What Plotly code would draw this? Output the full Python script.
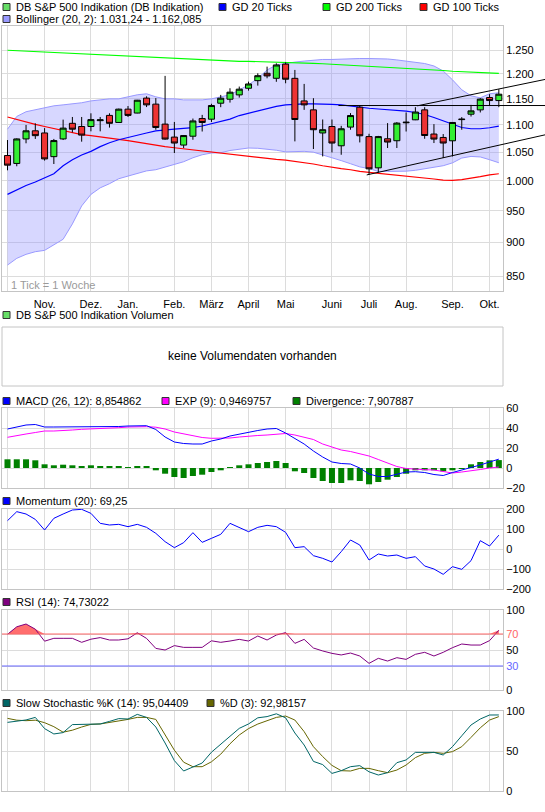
import math
import pandas as pd
import plotly.graph_objects as go

# ---------------- data ----------------
weeks = pd.date_range("2010-10-04", periods=54, freq="7D").strftime("%Y-%m-%d").tolist()

opens = [1044, 1030, 1074, 1089, 1085, 1042, 1074, 1103, 1097, 1097,
         1108, 1118, 1104.6, 1130, 1122.5, 1151.5, 1139.7, 1101.5, 1077.4, 1062.8,
         1079, 1112, 1110.8, 1141.5, 1149.3, 1157.8, 1171, 1186.3, 1201.3, 1191.1,
         1220.3, 1191, 1146, 1128.6, 1085, 1097, 1061.5, 1095.9, 1133.8, 1078.3,
         1022.3, 1074.3, 1070.7, 1104, 1109.6, 1128.6, 1083, 1076.7, 1070.6, 1110,
         1120.3, 1128.6, 1152.6, 1146.7]
highs = [1072, 1075, 1100, 1103, 1094, 1074, 1110, 1115, 1115, 1122,
         1115, 1122, 1131, 1136, 1148, 1155, 1151.5, 1196, 1105.6, 1081,
         1112, 1119, 1140.4, 1157.8, 1171, 1174.4, 1184.3, 1201.3, 1215, 1222,
         1224, 1208.2, 1179.7, 1151.3, 1110.2, 1110.2, 1098.3, 1122.4, 1136.4, 1083.5,
         1079.6, 1103.4, 1105.3, 1123.6, 1133.8, 1133.8, 1101.5, 1083, 1105, 1114.7,
         1138.3, 1151.5, 1159.2, 1169.2]
lows = [1018, 1025, 1066, 1074, 1035, 1029, 1072, 1086, 1069, 1088,
        1088, 1095, 1104, 1115, 1122, 1134, 1091, 1072.5, 1048.5, 1057.5,
        1072.5, 1087.7, 1105.6, 1133.8, 1142.7, 1152.5, 1166.3, 1176.3, 1191.1, 1184,
        1181, 1069.5, 1128.6, 1055.7, 1042.4, 1049.5, 1045.4, 1091, 1067.6, 1010.5,
        1013.9, 1057.5, 1057.5, 1087.7, 1109, 1074.3, 1066.5, 1039.5, 1042.4, 1091,
        1115.9, 1123.6, 1136.4, 1133.8]
closes = [1027, 1074, 1089, 1080, 1038, 1071, 1094, 1092, 1081, 1110,
          1109.5, 1103, 1130, 1118, 1147.4, 1138.3, 1095.2, 1073.7, 1066.5, 1080.2,
          1107.5, 1104.6, 1137, 1151.3, 1163.2, 1169.2, 1179.6, 1196.4, 1195.9, 1218.5,
          1189.2, 1110.2, 1138.3, 1091, 1091, 1066.5, 1092.8, 1117.7, 1079.8, 1020.5,
          1078.3, 1068.3, 1103.4, 1105, 1124.4, 1080.3, 1073.7, 1066.5, 1104.6, 1110.8,
          1126.7, 1149.5, 1146.7, 1159.2]

gd20 = [977, 985, 992, 998, 1005, 1012, 1026, 1036.6, 1045, 1051.5,
        1060, 1067, 1072.5, 1077, 1081.6, 1085, 1089, 1091, 1092, 1093.5,
        1095, 1098, 1102, 1106, 1111, 1117.7, 1122.4, 1127, 1131, 1135.5,
        1138.3, 1139.7, 1140.4, 1140.4, 1140.4, 1139.4, 1138.3, 1135.8, 1133.8, 1131.7,
        1130.3, 1129.2, 1128, 1126, 1123.6, 1119.7, 1113.9, 1107.5, 1100.8, 1095.2,
        1092.8, 1092.8, 1094.7, 1097.7]
gd100 = [1115, 1110, 1106, 1101, 1097, 1093, 1089, 1085, 1082, 1080,
         1078, 1076, 1073, 1071, 1068, 1065, 1062, 1060, 1058, 1056,
         1054, 1052, 1050, 1048.5, 1047, 1045, 1043, 1040, 1039, 1037,
         1036, 1034, 1031, 1029, 1026, 1023, 1021, 1019, 1016, 1014.5,
         1013, 1011, 1009.5, 1008, 1007, 1005, 1003, 1001, 1000.5, 1002,
         1004, 1007, 1010, 1012]
gd200 = [1249.5, 1248.5, 1247.5, 1246.5, 1245.5, 1244.5, 1243.5, 1242.5, 1242, 1241.5,
         1240.5, 1239.5, 1238.5, 1237.5, 1236.5, 1235.5, 1234.5, 1233.5, 1232.5, 1231.5,
         1230.5, 1229.5, 1228.5, 1227.5, 1226.5, 1226, 1226, 1225.5, 1225.5, 1225.5,
         1225, 1224, 1223, 1222, 1221, 1220, 1219, 1218, 1217, 1215.5,
         1214, 1213, 1212, 1211, 1210, 1209, 1208, 1207, 1205.5, 1204.5,
         1203.5, 1202.5, 1201.5, 1201]
boll_upper = [1092, 1116, 1125, 1129, 1132.6, 1136.4, 1138.3, 1140.4, 1142.4, 1146,
              1148, 1150, 1150, 1154, 1158, 1160, 1154, 1150, 1150, 1148,
              1148, 1148, 1150, 1154, 1158, 1167.7, 1177.7, 1191, 1208, 1218.5,
              1222, 1224.5, 1226.6, 1229, 1230, 1230, 1231, 1231.7, 1232, 1232,
              1232, 1231, 1229, 1227, 1224.5, 1221.5, 1216.4, 1206, 1188, 1168,
              1156, 1152, 1160, 1162.085]
boll_lower = [866, 876, 882, 886, 888, 896, 905, 929, 958, 977,
              988, 995, 1003.5, 1008, 1012, 1017, 1019, 1024, 1027.8, 1033,
              1040, 1045.4, 1048.5, 1049, 1053, 1055.5, 1057.5, 1057, 1055.5, 1053.5,
              1050.5, 1050.5, 1051.5, 1050, 1045.4, 1040, 1035, 1029.5, 1024, 1021,
              1016, 1016, 1016, 1016.5, 1018, 1021, 1023.5, 1026, 1031, 1039.5,
              1042.4, 1041.5, 1036.6, 1031.24]

# trend lines drawn on the price chart: (week index, price) -> (week index, price)
trend_lines = [((35.7, 1137.0), (58.0, 1137.0)),
               ((44.2, 1136.4), (58.0, 1188.8)),
               ((38.75, 1010.0), (58.0, 1081.6))]

macd = [39, 41, 43, 43.5, 41, 41, 41, 41.5, 41.5, 41.5,
        41, 41, 41.5, 42, 42.3, 42.3, 38.5, 31, 26, 24.5,
        24, 24, 27, 29, 32, 34, 36, 37.5, 39, 39.5,
        35, 29.5, 24, 17, 11, 6, 4.5, 4, 0, -6,
        -8.5, -8.5, -6.5, -4, -3.7, -4.5, -6.5, -7.5, -4.5, -2,
        0, 3, 6, 8.854862]
macd_exp = [30.7, 32, 34, 35.5, 37, 37, 37.3, 38, 38.7, 39,
            39.5, 39.7, 40.3, 41, 41.3, 41.3, 40.8, 39, 36, 34,
            32, 30.5, 29.7, 29.7, 30, 31, 32, 32.5, 33, 34,
            34.5, 33, 31, 28.5, 24, 21, 18, 16.5, 14.5, 12,
            8.5, 5, 1.5, -0.5, -1.3, -1.7, -2, -3.5, -5, -4,
            -3, -1.5, 0, 0.9469757]
divergence = [8.7, 8.7, 8.7, 7.7, 3.7, 2.7, 3.3, 2.7, 2, 2.7,
              1.7, 1.7, 1.7, 0.3, 1.7, 1.7, -2.3, -5.7, -9, -10,
              -8, -6.7, -4, -2.3, 0.3, 2.7, 3.7, 5, 6, 7,
              5, -3.3, -5, -10, -13, -15, -15, -12.3, -13, -16.3,
              -14, -11.7, -9, -5.7, -2.3, -2.3, -2.3, -3.3, -2.3, -0.3,
              3.7, 6, 7.7, 7.907887]
momentum = [141.7, 186.7, 175, 148, 95, 153.3, 175, 195, 198.3, 178.3,
            128.3, 120, 123.3, 111.7, 123.3, 108.3, 78.3, 36.7, 6.7, 31.7,
            81.7, 33.3, 53.3, 73.3, 128.3, 108.3, 86.7, 108.3, 118.3, 111.7,
            83.3, 6.7, 11.7, -33.3, -46.7, -65, -13.3, 45, 20, -55,
            -25, -35, -30, -46.7, -38.3, -85, -100, -126.7, -88.3, -101.7,
            -58.3, 41.7, 15, 69.25]
rsi = [69.6, 79, 82.5, 76, 61, 64.6, 64.6, 64.6, 59.6, 63.5,
       65.5, 62.5, 62.5, 64, 71.5, 64.5, 52, 50, 55.5, 53.3,
       53.3, 53.3, 61.5, 59.6, 61.2, 63.3, 61.2, 67.5, 62.5, 68.7,
       71.7, 58.3, 63.3, 52.5, 48.8, 45.8, 43.8, 46.2, 42.5, 33.3,
       39.6, 36.2, 40.4, 38.3, 44.6, 47.1, 42.5, 47.1, 52.9, 57.5,
       56.2, 56.2, 61.7, 74.73022]
stoch_k = [85.8, 87, 88.8, 92, 78, 71.3, 73, 83, 83.3, 83.3,
           83.8, 87, 90.5, 90, 95.8, 92, 80, 60, 38, 25,
           30, 35, 48.5, 58.5, 69, 78.3, 83.8, 91.5, 93, 96.5,
           91.5, 72.5, 57.5, 37, 33, 22, 25.4, 30.4, 31.7, 24,
           20, 22.9, 35.4, 38.8, 48.3, 48.3, 48.3, 45, 55.4, 69,
           82.5, 90, 95, 95.04409]
stoch_d = [90.8, 88.5, 87.9, 88.5, 85.4, 80.4, 73.5, 76, 80, 83.3,
           83.8, 85.5, 87.9, 89.5, 92, 92, 89.5, 71, 51, 36,
           30.4, 30.4, 36.5, 46, 59, 70, 78, 83.7, 87.9, 92,
           93.7, 88.7, 74.2, 55.4, 43, 32, 25.4, 25, 28.3, 28.3,
           25.4, 22.9, 26.2, 32.5, 41.7, 47.1, 48.3, 47.1, 49.2, 55.4,
           67, 79, 88.7, 92.98157]

tick_weeks = ["2010-10-04", "2010-11-01", "2010-12-06", "2011-01-03", "2011-02-07",
              "2011-03-07", "2011-04-04", "2011-05-02", "2011-06-06", "2011-07-04",
              "2011-08-01", "2011-09-05", "2011-10-03"]
tick_months = ["", "Nov.", "Dez.", "Jan.", "Feb.", "März", "April", "Mai", "Juni",
               "Juli", "Aug.", "Sep.", "Okt."]

price_ticks = [850, 900, 950, 1000, 1050, 1100, 1150, 1200, 1250]
price_tick_text = ["850", "900", "950", "1.000", "1.050", "1.100", "1.150", "1.200", "1.250"]

# ---------------- layout helpers ----------------
W, H = 545, 812
ML, MR, MT, MB = 2, 42, 26, 21
PW, PH = W - ML - MR, H - MT - MB
FONT = "Liberation Sans, Arial, sans-serif"
GRID = "#dcdcdc"
BORDER = "#c4c4c4"


def px(x):
    return (x - ML) / PW


def py(y):
    return (H - MB - y) / PH


XR = [-0.593, 53.45]
MAIN_YR = [2.9183, 3.1147]
dom_main = [py(291), py(26)]
dom_macd = [py(488), py(408)]
dom_mom = [py(589), py(509)]
dom_rsi = [py(690), py(610)]
dom_sto = [py(791), py(711)]

fig = go.Figure()

# ---------------- main price chart ----------------
fig.add_trace(go.Scatter(x=weeks, y=boll_upper, mode="lines",
                         line=dict(color="#9999ff", width=1), hoverinfo="skip"))
fig.add_trace(go.Scatter(x=weeks, y=boll_lower, mode="lines", fill="tonexty",
                         fillcolor="rgba(140,140,255,0.35)",
                         line=dict(color="#9999ff", width=1), hoverinfo="skip"))
fig.add_trace(go.Scatter(x=weeks, y=gd200, mode="lines", line=dict(color="#00ff00", width=1.2)))
fig.add_trace(go.Scatter(x=weeks, y=gd100, mode="lines", line=dict(color="#ff0000", width=1.2)))
fig.add_trace(go.Scatter(x=weeks, y=gd20, mode="lines", line=dict(color="#0000ff", width=1.2)))
# candles on an overlaid copy of the price axes so they sit above the band fill
fig.add_trace(go.Candlestick(
    x=weeks, open=opens, high=highs, low=lows, close=closes,
    increasing=dict(line=dict(color="black", width=1), fillcolor="#33ee33"),
    decreasing=dict(line=dict(color="black", width=1), fillcolor="#ee3333"),
    whiskerwidth=0, xaxis="x6", yaxis="y6"))

# ---------------- MACD ----------------
fig.add_trace(go.Bar(x=weeks, y=divergence, width=0.65, marker=dict(color="#008000", line=dict(width=0)),
                     xaxis="x2", yaxis="y2"))
fig.add_trace(go.Scatter(x=weeks, y=macd_exp, mode="lines", line=dict(color="#ff00ff", width=1),
                         xaxis="x2", yaxis="y2"))
fig.add_trace(go.Scatter(x=weeks, y=macd, mode="lines", line=dict(color="#0000ff", width=1),
                         xaxis="x2", yaxis="y2"))

# ---------------- Momentum ----------------
fig.add_trace(go.Scatter(x=weeks, y=momentum, mode="lines", line=dict(color="#0000ff", width=1),
                         xaxis="x3", yaxis="y3"))

# ---------------- RSI ----------------
fig.add_trace(go.Scatter(x=weeks, y=[70] * len(weeks), mode="lines", line=dict(width=0),
                         hoverinfo="skip", xaxis="x4", yaxis="y4"))
fig.add_trace(go.Scatter(x=weeks, y=[max(v, 70) for v in rsi], mode="lines", line=dict(width=0),
                         fill="tonexty", fillcolor="#ff6e6e", hoverinfo="skip",
                         xaxis="x4", yaxis="y4"))
fig.add_trace(go.Scatter(x=weeks, y=rsi, mode="lines", line=dict(color="#800080", width=1),
                         xaxis="x4", yaxis="y4"))

# ---------------- Stochastic ----------------
fig.add_trace(go.Scatter(x=weeks, y=stoch_d, mode="lines", line=dict(color="#666600", width=1),
                         xaxis="x5", yaxis="y5"))
fig.add_trace(go.Scatter(x=weeks, y=stoch_k, mode="lines", line=dict(color="#006666", width=1),
                         xaxis="x5", yaxis="y5"))


# ---------------- axes ----------------
def xaxis_cfg(anchor, labels):
    return dict(type="category", range=XR, anchor=anchor, domain=[0, 1],
                tickvals=tick_weeks, ticktext=tick_months, showticklabels=labels,
                showgrid=True, gridcolor=GRID, gridwidth=1, zeroline=False,
                showline=True, mirror=True, linecolor=BORDER, linewidth=1,
                ticks="outside" if labels else "", ticklen=3, tickcolor="rgba(0,0,0,0)",
                tickfont=dict(family=FONT, size=11, color="black"),
                rangeslider=dict(visible=False), fixedrange=True)


def yaxis_cfg(anchor, dom, rng, vals, texts, typ="linear"):
    return dict(type=typ, domain=dom, range=rng, anchor=anchor, side="right",
                tickvals=vals, ticktext=texts, showgrid=True, gridcolor=GRID, gridwidth=1,
                zeroline=False, showline=True, mirror=True, linecolor=BORDER, linewidth=1,
                ticks="", tickfont=dict(family=FONT, size=11, color="black"), fixedrange=True)


fig.update_layout(
    xaxis=xaxis_cfg("y", True),
    xaxis2=xaxis_cfg("y2", False),
    xaxis3=xaxis_cfg("y3", False),
    xaxis4=xaxis_cfg("y4", False),
    xaxis5=xaxis_cfg("y5", False),
    xaxis6=dict(type="category", range=XR, overlaying="x", anchor="y6", visible=False,
                showgrid=False, rangeslider=dict(visible=False), fixedrange=True),
    yaxis=yaxis_cfg("x", dom_main, MAIN_YR, price_ticks, price_tick_text, "log"),
    yaxis6=dict(type="log", range=MAIN_YR, overlaying="y", anchor="x6", visible=False,
                showgrid=False, fixedrange=True),
    yaxis2=yaxis_cfg("x2", dom_macd, [-20, 60], [-20, 0, 20, 40, 60], ["\u221220", "0", "20", "40", "60"]),
    yaxis3=yaxis_cfg("x3", dom_mom, [-200, 200], [-200, -100, 0, 100, 200],
                     ["\u2212200", "\u2212100", "0", "100", "200"]),
    yaxis4=yaxis_cfg("x4", dom_rsi, [0, 100], [0, 30, 50, 70, 100],
                     ["0", "<span style='color:#6666ff'>30</span>", "50",
                      "<span style='color:#ff6666'>70</span>", "100"]),
    yaxis5=yaxis_cfg("x5", dom_sto, [0, 100], [0, 50, 100], ["0", "50", "100"]),
)

shapes = []
annotations = []

# RSI reference lines
shapes.append(dict(type="line", xref="x4 domain", yref="y4", x0=0, x1=1, y0=70, y1=70,
                   line=dict(color="#ff6666", width=1), layer="above"))
shapes.append(dict(type="line", xref="x4 domain", yref="y4", x0=0, x1=1, y0=30, y1=30,
                   line=dict(color="#6666ff", width=1), layer="above"))


# trend lines (converted through the main axis ranges so they can run past the plot edge)
def main_xp(i):
    return (i - XR[0]) / (XR[1] - XR[0])


def main_yp(p):
    return dom_main[0] + (math.log10(p) - MAIN_YR[0]) / (MAIN_YR[1] - MAIN_YR[0]) * (dom_main[1] - dom_main[0])


for (i0, p0), (i1, p1) in trend_lines:
    shapes.append(dict(type="line", xref="paper", yref="paper",
                       x0=main_xp(i0), y0=main_yp(p0), x1=main_xp(i1), y1=main_yp(p1),
                       line=dict(color="black", width=1), layer="above"))

# volume panel (no data)
shapes.append(dict(type="rect", xref="paper", yref="paper", x0=px(2), x1=px(503),
                   y0=py(386), y1=py(327), line=dict(color=BORDER, width=1), fillcolor="white"))
annotations.append(dict(text="keine Volumendaten vorhanden", xref="paper", yref="paper",
                        x=px(252.5), y=py(356), showarrow=False, xanchor="center", yanchor="middle",
                        font=dict(family=FONT, size=12, color="black")))
annotations.append(dict(text="1 Tick = 1 Woche", xref="paper", yref="paper",
                        x=px(9), y=py(285), showarrow=False, xanchor="left", yanchor="middle",
                        font=dict(family=FONT, size=11, color="#9a9a9a")))

legend_rows = [
    (7, [(3, "#66dd66", "DB S&P 500 Indikation (DB Indikation)"), (219, "#0000ff", "GD 20 Ticks"),
         (323, "#00ff00", "GD 200 Ticks"), (420, "#ff0000", "GD 100 Ticks")]),
    (19, [(3, "#9999ff", "Bollinger (20, 2): 1.031,24 - 1.162,085")]),
    (315, [(3, "#66dd66", "DB S&P 500 Indikation Volumen")]),
    (401, [(3, "#0000ff", "MACD (26, 12): 8,854862"), (162, "#ff00ff", "EXP (9): 0,9469757"),
           (293, "#008000", "Divergence: 7,907887")]),
    (501, [(3, "#0000ff", "Momentum (20): 69,25")]),
    (602, [(3, "#800080", "RSI (14): 74,73022")]),
    (703, [(3, "#006666", "Slow Stochastic %K (14): 95,04409"), (207, "#666600", "%D (3): 92,98157")]),
]
for yc, items in legend_rows:
    for xs, col, txt in items:
        shapes.append(dict(type="rect", xref="paper", yref="paper",
                           x0=px(xs), x1=px(xs + 7), y0=py(yc + 3.5), y1=py(yc - 3.5),
                           fillcolor=col, line=dict(color="#333333", width=1)))
        annotations.append(dict(text=txt, xref="paper", yref="paper", x=px(xs + 11), y=py(yc),
                                showarrow=False, xanchor="left", yanchor="middle",
                                font=dict(family=FONT, size=11, color="black")))

fig.update_layout(
    width=W, height=H,
    margin=dict(l=ML, r=MR, t=MT, b=MB, pad=0),
    paper_bgcolor="white", plot_bgcolor="white",
    showlegend=False, boxgap=0.35, boxgroupgap=0,
    shapes=shapes, annotations=annotations,
    font=dict(family=FONT, size=11, color="black"),
)

# the page's default body margin would shift the figure by 8px; remove it
fig.write_html("out.html", config={"displayModeBar": False},
               post_script="document.body.style.margin='0px';")
